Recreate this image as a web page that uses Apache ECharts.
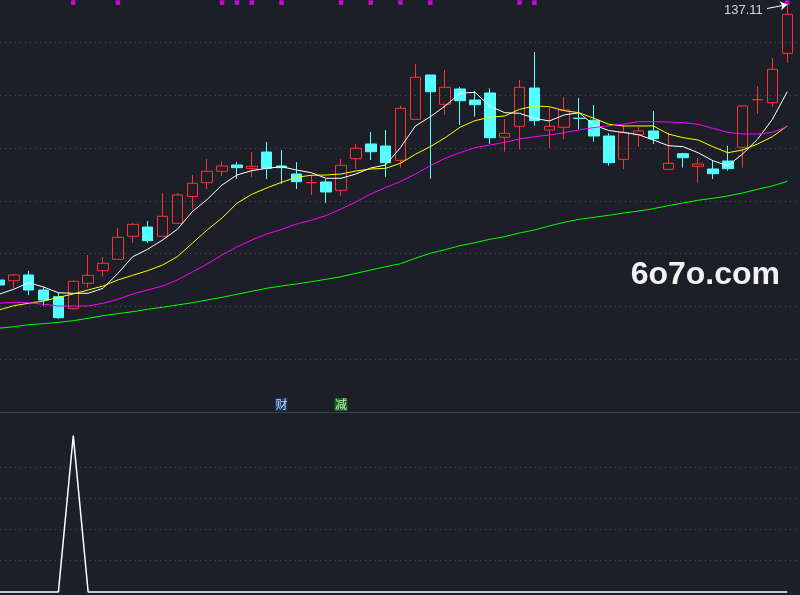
<!DOCTYPE html>
<html>
<head>
<meta charset="utf-8">
<script src="https://cdn.jsdelivr.net/npm/echarts@6/dist/echarts.min.js"></script>
<style>
html,body{margin:0;padding:0;background:#1c1f27;}
#c{width:800px;height:595px;}
</style>
</head>
<body>
<div id="c"></div>
<script>
const categories = ['1','2','3','4','5','6','7','8','9','10','11','12','13','14','15','16','17','18','19','20','21','22','23','24','25','26','27','28','29','30','31','32','33','34','35','36','37','38','39','40','41','42','43','44','45','46','47','48','49','50','51','52','53','54'];

const openPrices = [85.00,84.87,85.95,83.11,81.85,79.58,84.38,86.77,88.92,93.28,95.03,93.28,95.73,100.80,103.42,105.57,106.77,106.07,109.22,106.58,105.06,103.40,103.55,101.98,107.96,110.74,110.36,107.65,115.41,123.79,118.25,121.15,119.06,120.39,112.01,114.09,121.33,113.39,113.90,115.62,115.22,112.25,107.84,112.50,113.20,105.95,108.90,106.52,106.01,107.52,110.11,119.10,118.55,127.90];
const closePrices = [84.06,85.95,83.11,81.22,77.87,84.76,85.89,88.17,93.09,95.54,92.44,97.06,101.09,103.30,105.57,106.58,106.26,106.52,106.14,106.26,103.61,103.45,101.66,106.71,109.93,109.28,107.20,117.49,123.36,120.63,121.47,118.93,118.17,111.93,112.76,121.47,115.15,114.09,117.17,115.58,112.25,107.20,112.88,113.20,111.74,107.09,108.15,106.95,105.12,106.07,117.93,119.14,124.87,135.28];
const lowPrices = [83.68,83.43,82.17,80.14,77.63,79.40,83.55,85.63,88.92,92.06,92.06,93.28,95.73,98.25,102.22,104.69,104.12,104.50,104.12,103.17,102.22,101.09,99.58,100.90,106.01,107.71,104.50,106.26,115.41,104.17,116.28,114.33,115.90,110.74,109.28,109.74,114.20,110.04,111.63,113.52,111.17,106.63,106.01,110.23,110.74,105.95,106.26,103.42,104.12,105.69,106.26,116.41,117.74,126.12];
const highPrices = [85.39,86.14,86.71,83.74,82.60,84.90,89.74,89.36,94.85,95.85,96.17,101.47,101.47,104.87,107.90,107.52,107.33,109.22,111.12,109.60,107.33,104.87,104.12,107.90,110.74,113.01,113.38,117.98,125.88,123.79,124.74,121.52,120.77,121.28,115.47,122.85,128.15,117.68,119.63,119.44,118.12,112.76,114.33,114.01,116.98,112.88,109.09,108.09,107.65,110.42,117.93,121.71,127.01,137.11];

const maWhite = [82.30,83.25,84.50,83.68,82.60,82.49,82.49,83.44,86.27,89.42,90.82,92.57,94.60,97.93,100.24,102.98,104.87,105.69,106.14,106.44,105.82,105.31,104.25,104.25,105.06,106.20,106.77,110.08,114.15,115.90,117.93,120.33,120.52,117.93,116.66,116.55,115.60,115.09,116.23,116.66,114.33,113.29,112.92,112.50,111.50,110.42,110.23,109.09,107.58,106.63,108.85,111.63,115.41,120.63];
const maYellow = [79.33,80.14,80.60,81.03,81.73,82.36,83.11,83.87,85.01,85.90,86.77,87.84,89.42,91.95,94.47,96.74,99.52,101.22,102.41,103.49,104.44,104.82,104.87,105.06,105.63,106.01,106.14,107.09,108.79,110.23,111.93,113.90,115.15,115.79,116.04,117.30,117.93,117.80,117.04,116.66,115.60,114.47,114.15,114.15,114.15,112.63,111.93,111.50,110.23,109.09,109.60,110.74,112.12,114.15];
const maMagenta = [80.60,80.79,80.71,80.41,80.09,80.09,80.09,80.60,81.35,82.36,83.11,83.87,85.01,86.52,88.03,89.74,91.25,92.57,93.71,94.56,95.60,96.30,97.21,98.44,99.76,101.28,102.51,103.64,105.06,106.63,108.03,109.09,110.04,110.55,111.06,111.69,112.12,112.44,112.88,113.39,113.86,114.20,114.52,114.96,114.96,114.90,114.77,114.47,113.71,112.95,112.63,112.63,112.95,114.01];
const maGreen = [75.87,76.17,76.55,76.74,77.00,77.31,77.76,78.25,78.63,79.01,79.46,79.84,80.28,80.71,81.22,81.73,82.30,82.87,83.44,83.87,84.25,84.69,85.14,85.63,86.27,86.90,87.52,88.09,89.11,90.06,90.74,91.50,92.06,92.71,93.20,93.90,94.47,95.22,95.92,96.49,96.87,97.25,97.68,98.06,98.50,99.07,99.58,100.09,100.47,100.90,101.47,102.17,102.79,103.68];

const lowerSignal = [0,0,0,0,0,100,0,0,0,0,0,0,0,0,0,0,0,0,0,0,0,0,0,0,0,0,0,0,0,0,0,0,0,0,0,0,0,0,0,0,0,0,0,0,0,0,0,0,0,0,0,0,0,0];

const dotIndex = [5,8,15,16,17,19,23,25,27,29,35,36,53];
const dotLevel = 137.5;

const tagLabels = ['财','减'];
const tagIndex = [19,23];
const tagLevel = 61.45;

const highLabel = 137.11;
const highIndex = 53;
const watermark = '6o7o.com';

// visible window of the bar index axis (first bar is half cut at the left edge)
const xMin = 0.074, xMax = 53.856;
const priceMin = 60, priceMax = 137.985;

const tagColors = ['#0b3a6e','#0b7d10'];

const candleData = categories.map((c,i)=>[i, openPrices[i], closePrices[i], lowPrices[i], highPrices[i]]);
const pairs = arr => arr.map((v,i)=>[i, v]);
const dotData = dotIndex.map(ix=>[ix, dotLevel]);
const tagData = tagIndex.map((ix,k)=>({
  value:[ix, tagLevel],
  itemStyle:{color:tagColors[k]},
  label:{formatter:tagLabels[k]}
}));

const hidden = {show:false};
function maSeries(data, color){
  return {type:'line', xAxisIndex:0, yAxisIndex:0, data:pairs(data), showSymbol:false, symbol:'none',
    lineStyle:{color:color, width:1}, silent:true, z:3, clip:false};
}

const chart = echarts.init(document.getElementById('c'), null, {renderer:'canvas'});
const option = {
  animation:false,
  backgroundColor:'#1c1f27',
  grid:[
    {left:0, width:800, top:0, height:412.15},
    {left:0, width:800, top:435.5, height:156.5}
  ],
  xAxis:[
    {type:'value', gridIndex:0, min:xMin, max:xMax,
     axisLine:{show:true, onZero:false, lineStyle:{color:'#3c4250', width:1}},
     axisTick:hidden, axisLabel:hidden, splitLine:hidden},
    {type:'value', gridIndex:1, min:xMin, max:xMax,
     axisLine:hidden, axisTick:hidden, axisLabel:hidden, splitLine:hidden}
  ],
  yAxis:[
    {type:'value', gridIndex:0, min:priceMin, max:priceMax, interval:10,
     axisLine:hidden, axisTick:hidden, axisLabel:hidden,
     splitLine:{show:true, showMinLine:false, showMaxLine:false, lineStyle:{color:'#4a4e5a', type:[1,4], width:1}}},
    {type:'value', gridIndex:1, min:0, max:100, interval:20,
     axisLine:hidden, axisTick:hidden, axisLabel:hidden,
     splitLine:{show:true, showMinLine:false, showMaxLine:false, lineStyle:{color:'#4a4e5a', type:[1,4], width:1}}}
  ],
  graphic:[
    {type:'text', right:20, top:259, silent:true,
     style:{text:watermark, fill:'#f2f2f2', fontSize:32, fontWeight:'bold', fontFamily:'Liberation Sans'}}
  ],
  series:[
    {type:'candlestick', xAxisIndex:0, yAxisIndex:0, data:candleData, encode:{x:0, y:[1,2,3,4]},
     barWidth:11, silent:true, z:2, clip:false,
     itemStyle:{color:'transparent', color0:'#54ffff', borderColor:'#ff3232', borderColor0:'#54ffff', borderWidth:1},
     markPoint:{
       silent:true, symbol:'rect', symbolSize:1, itemStyle:{color:'transparent'},
       label:{show:true, position:'left', distance:24, offset:[0,6], color:'#cdd6e4', fontSize:13, fontFamily:'Liberation Sans',
              formatter:String(highLabel)},
       data:[{coord:[highIndex, highLabel], value:highLabel}]
     },
     markLine:{
       silent:true, symbol:['none','arrow'], symbolSize:7, animation:false,
       label:{show:false},
       lineStyle:{color:'#ffffff', width:1, type:'solid'},
       data:[[{x:767, y:8.5}, {coord:[highIndex, highLabel]}]]
     }
    },
    maSeries(maWhite,'#ffffff'),
    maSeries(maYellow,'#ffff00'),
    maSeries(maMagenta,'#ff00ff'),
    maSeries(maGreen,'#00ff00'),
    {type:'scatter', xAxisIndex:0, yAxisIndex:0, data:dotData, symbol:'rect', symbolSize:4.5,
     itemStyle:{color:'#ff00ff'}, silent:true, clip:false, z:4},
    {type:'scatter', xAxisIndex:0, yAxisIndex:0, data:tagData, symbol:'rect', symbolSize:[13,13],
     silent:true, clip:false, z:4,
     label:{show:true, position:'inside', color:'#ffffff', fontSize:12, fontFamily:'Noto Sans CJK SC'}},
    {type:'line', xAxisIndex:1, yAxisIndex:1, data:pairs(lowerSignal), showSymbol:false, symbol:'none',
     lineStyle:{color:'#ffffff', width:1.5}, silent:true, clip:false}
  ]
};
chart.setOption(option);
</script>
</body>
</html>
